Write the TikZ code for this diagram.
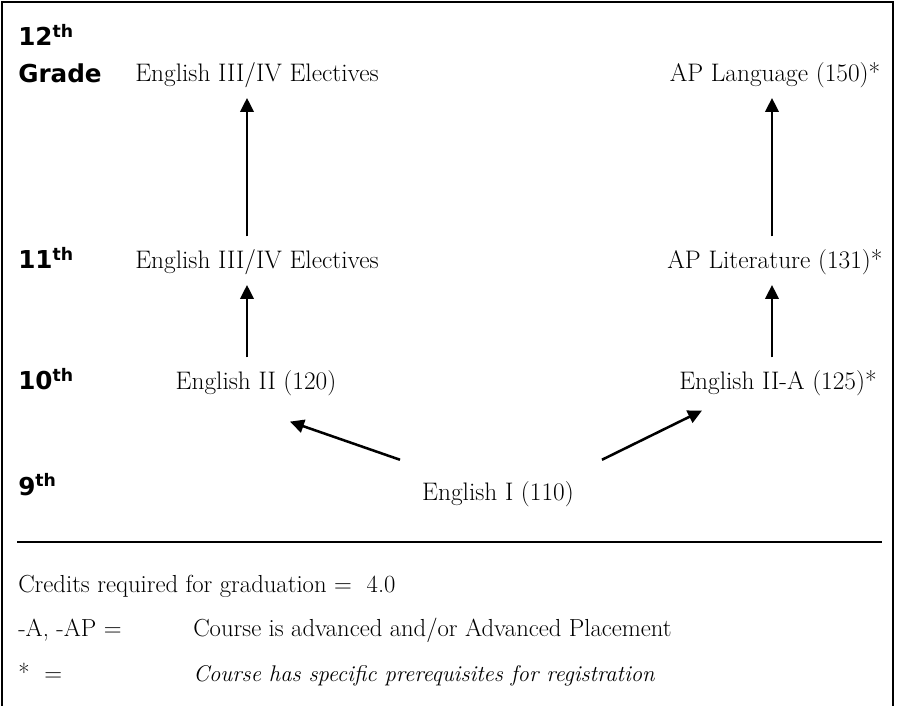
\documentclass[tikz,border=0pt]{standalone}
\usepackage{fontspec}
\usepackage{tikz}
\usetikzlibrary{arrows.meta,positioning}
\newfontfamily\gradefont{DejaVu Sans}
\newcommand{\ord}[1]{#1\textsuperscript{th}}

\begin{document}
\begin{tikzpicture}[x=0.75pt,y=-0.75pt,
        grade/.style={anchor=base west,inner sep=0pt,font=\gradefont\bfseries\fontsize{18.5}{22}\selectfont},
        course/.style={anchor=base,inner sep=0pt,font=\fontsize{19}{22}\selectfont},
        note/.style={anchor=base west,inner sep=0pt,font=\fontsize{18.5}{22}\selectfont},
        arrow/.style={-{Triangle[length=10.5pt,width=10pt]},line width=1.9pt,shorten <=10pt,shorten >=7pt}]
        \useasboundingbox (0,0) rectangle (901,706);
        \draw[line width=1.5pt] (2,2) rectangle (893,712);
        \coordinate (colL) at (247,0);
        \coordinate (colR) at (772,0);
        \node[grade] (g12) at (18,46) {\ord{12}};
        \node[grade] (g12b) at (18,83) {Grade};
        \node[grade] (g11) at (18,269) {\ord{11}};
        \node[grade] (g10) at (18,390) {\ord{10}};
        \node[grade] (g9) at (18,495) {\ord{9}};
        \node[course] (c12l) at (257,82) {English III/IV Electives};
        \node[course] (c12r) at (775,82) {AP Language (150)*};
        \node[course] (c11l) at (257,269) {English III/IV Electives};
        \node[course] (c11r) at (775,269) {AP Literature (131)*};
        \node[course] (c10l) at (256,390) {English II (120)};
        \node[course] (c10r) at (778,390) {English II-A (125)*};
        \node[course] (c9) at (498,500) {English I (110)};
        \draw[arrow] (c11l.north -| colL) -- (c12l.south -| colL);
        \draw[arrow] (c11r.north -| colR) -- (c12r.south -| colR);
        \draw[arrow] (c10l.north -| colL) -- (c11l.south -| colL);
        \draw[arrow] (c10r.north -| colR) -- (c11r.south -| colR);
        \draw[arrow,shorten <=0pt,shorten >=0pt] ([shift={(-98,-21)}]c9.north) -- ([shift={(34,25)}]c10l.south);
        \draw[arrow,shorten <=0pt,shorten >=0pt] ([shift={(104,-21)}]c9.north) -- ([shift={(-76,14)}]c10r.south);
        \draw[line width=0.9pt] (17,542) -- (882,542);
        \node[note] (cred) at (18,592) {Credits required for graduation =\ \ 4.0};
        \node[note] (keyA) at (18,636) {-A, -AP =};
        \node[note] (txtA) at (193,636) {Course is advanced and/or Advanced Placement};
        \node[note] (keyS) at (18,681) {*\ \ =};
        \node[note,font=\itshape\fontsize{17}{21}\selectfont] (txtS) at (193,681) {Course has specific prerequisites for registration};
      \end{tikzpicture}
\end{document}
